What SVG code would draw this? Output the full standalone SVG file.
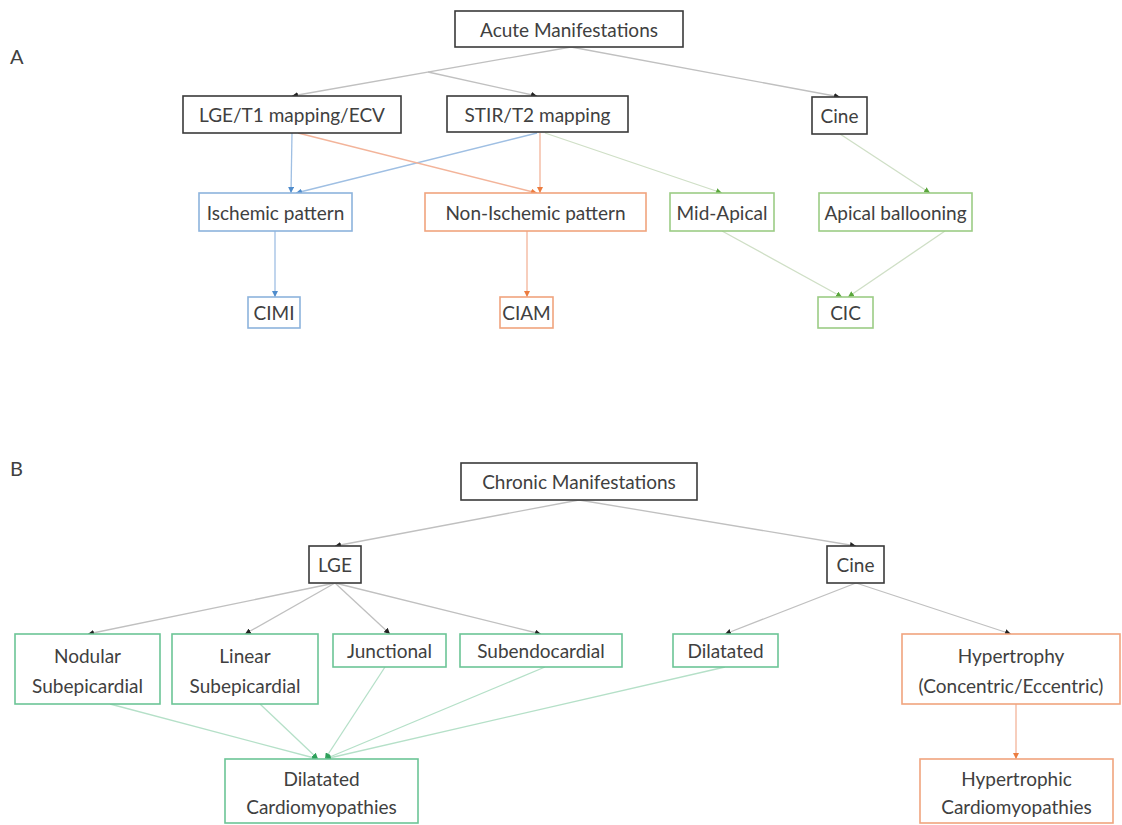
<svg xmlns="http://www.w3.org/2000/svg" width="1122" height="825" viewBox="0 0 1122 825">
<style>
text{font-family:Lato,"Open Sans","Liberation Sans",sans-serif;font-size:19px;fill:#404040;text-anchor:middle;dominant-baseline:central}
.lbl{font-size:20px;text-anchor:start}
rect{fill:#fff;stroke-width:1.6}
.k rect{stroke:#3a3a3a}
.b rect{stroke:#8db3dd}
.o rect{stroke:#f0a47e}
.g rect{stroke:#9ccc85}
.t rect{stroke:#6cc596}
line{stroke-width:1.3;fill:none}
.ck{stroke:#c0c0c0}
.cb{stroke:#9fbfe3}
.co{stroke:#f3b49a}
.cg{stroke:#cfdfc6}
.ct{stroke:#b5e0c8}
</style>
<defs>
<marker id="ak" viewBox="0 0 6 6" refX="6" refY="3" markerWidth="6" markerHeight="6" markerUnits="userSpaceOnUse" orient="auto"><path d="M0,0L6,3L0,6z" fill="#222"/></marker>
<marker id="ab" viewBox="0 0 6 6" refX="6" refY="3" markerWidth="6" markerHeight="6" markerUnits="userSpaceOnUse" orient="auto"><path d="M0,0L6,3L0,6z" fill="#4f8ccc"/></marker>
<marker id="ao" viewBox="0 0 6 6" refX="6" refY="3" markerWidth="6" markerHeight="6" markerUnits="userSpaceOnUse" orient="auto"><path d="M0,0L6,3L0,6z" fill="#ec7c3f"/></marker>
<marker id="ag" viewBox="0 0 6 6" refX="6" refY="3" markerWidth="6" markerHeight="6" markerUnits="userSpaceOnUse" orient="auto"><path d="M0,0L6,3L0,6z" fill="#5aa63c"/></marker>
<marker id="at" viewBox="0 0 6 6" refX="6" refY="3" markerWidth="6" markerHeight="6" markerUnits="userSpaceOnUse" orient="auto"><path d="M0,0L6,3L0,6z" fill="#2ea05a"/></marker>
</defs>

<text class="lbl" x="10" y="56">A</text>
<text class="lbl" x="10" y="468">B</text>

<g id="connectors">
<line class="ck" x1="571" y1="47" x2="292" y2="96" marker-end="url(#ak)"/>
<line class="ck" x1="428" y1="72" x2="537" y2="96" marker-end="url(#ak)"/>
<line class="ck" x1="571" y1="47" x2="840" y2="97" marker-end="url(#ak)"/>
<line class="cb" x1="292" y1="133" x2="291" y2="193" marker-end="url(#ab)"/>
<line class="cb" x1="537" y1="133" x2="296" y2="193" marker-end="url(#ab)"/>
<line class="co" x1="298" y1="133" x2="537" y2="193" marker-end="url(#ao)"/>
<line class="co" x1="540" y1="133" x2="540" y2="193" marker-end="url(#ao)"/>
<line class="cg" x1="545" y1="133" x2="722" y2="193" marker-end="url(#ag)"/>
<line class="cg" x1="840" y1="134" x2="930" y2="193" marker-end="url(#ag)"/>
<line class="cb" x1="275" y1="231" x2="275" y2="297" marker-end="url(#ab)"/>
<line class="co" x1="527" y1="231" x2="527" y2="297" marker-end="url(#ao)"/>
<line class="cg" x1="722" y1="231" x2="842" y2="297" marker-end="url(#ag)"/>
<line class="cg" x1="945" y1="231" x2="848" y2="297" marker-end="url(#ag)"/>

<line class="ck" x1="579" y1="500" x2="335" y2="546" marker-end="url(#ak)"/>
<line class="ck" x1="579" y1="500" x2="856" y2="546" marker-end="url(#ak)"/>
<line class="ck" x1="335" y1="583" x2="88" y2="634" marker-end="url(#ak)"/>
<line class="ck" x1="335" y1="583" x2="245" y2="634" marker-end="url(#ak)"/>
<line class="ck" x1="335" y1="583" x2="390" y2="634" marker-end="url(#ak)"/>
<line class="ck" x1="335" y1="583" x2="541" y2="634" marker-end="url(#ak)"/>
<line class="ck" x1="856" y1="583" x2="725" y2="634" marker-end="url(#ak)"/>
<line class="ck" x1="856" y1="583" x2="1011" y2="634" marker-end="url(#ak)"/>
<line class="ct" x1="110" y1="704" x2="318" y2="759" marker-end="url(#at)"/>
<line class="ct" x1="260" y1="704" x2="318" y2="759" marker-end="url(#at)"/>
<line class="ct" x1="385" y1="667" x2="325" y2="759" marker-end="url(#at)"/>
<line class="ct" x1="545" y1="667" x2="325" y2="759" marker-end="url(#at)"/>
<line class="ct" x1="725" y1="667" x2="325" y2="759" marker-end="url(#at)"/>
<line class="co" x1="1016" y1="704" x2="1016" y2="759" marker-end="url(#ao)"/>
</g>

<g id="acute" class="k"><rect x="455" y="11" width="228" height="36"/><text x="569" y="29">Acute Manifestations</text></g>
<g id="lge-t1" class="k"><rect x="183" y="96" width="218" height="37"/><text x="292" y="114.5">LGE/T1 mapping/ECV</text></g>
<g id="stir" class="k"><rect x="447" y="96" width="181" height="36"/><text x="537.5" y="114">STIR/T2 mapping</text></g>
<g id="cine-a" class="k"><rect x="812" y="97" width="55" height="37"/><text x="839.5" y="115.5">Cine</text></g>
<g id="ischemic" class="b"><rect x="199" y="193" width="153" height="38"/><text x="275.5" y="212">Ischemic pattern</text></g>
<g id="nonischemic" class="o"><rect x="425" y="193" width="221" height="38"/><text x="535.5" y="212">Non-Ischemic pattern</text></g>
<g id="midapical" class="g"><rect x="670" y="193" width="104" height="38"/><text x="722" y="212">Mid-Apical</text></g>
<g id="apical" class="g"><rect x="819" y="193" width="153" height="38"/><text x="895.5" y="212">Apical ballooning</text></g>
<g id="cimi" class="b"><rect x="248" y="297" width="52" height="31"/><text x="274" y="312.5">CIMI</text></g>
<g id="ciam" class="o"><rect x="500" y="297" width="53" height="31"/><text x="526.5" y="312.5">CIAM</text></g>
<g id="cic" class="g"><rect x="818" y="297" width="55" height="31"/><text x="845.5" y="312.5">CIC</text></g>

<g id="chronic" class="k"><rect x="461" y="463" width="236" height="37"/><text x="579" y="481.5">Chronic Manifestations</text></g>
<g id="lge" class="k"><rect x="309" y="546" width="52" height="37"/><text x="335" y="564.5">LGE</text></g>
<g id="cine-b" class="k"><rect x="827" y="546" width="57" height="37"/><text x="855.5" y="564.5">Cine</text></g>
<g id="nodular" class="t"><rect x="15" y="634" width="145" height="70"/><text x="87.5" y="655">Nodular</text><text x="87.5" y="685">Subepicardial</text></g>
<g id="linear" class="t"><rect x="172" y="634" width="146" height="70"/><text x="245" y="655">Linear</text><text x="245" y="685">Subepicardial</text></g>
<g id="junctional" class="t"><rect x="333" y="634" width="113" height="33"/><text x="389.5" y="650.5">Junctional</text></g>
<g id="subendo" class="t"><rect x="460" y="634" width="162" height="33"/><text x="541" y="650.5">Subendocardial</text></g>
<g id="dilatated" class="t"><rect x="673" y="634" width="105" height="33"/><text x="725.5" y="650.5">Dilatated</text></g>
<g id="hypertrophy" class="o"><rect x="902" y="634" width="218" height="70"/><text x="1011" y="655">Hypertrophy</text><text x="1011" y="685">(Concentric/Eccentric)</text></g>
<g id="dcm" class="t"><rect x="225" y="759" width="193" height="64"/><text x="321.5" y="778">Dilatated</text><text x="321.5" y="806">Cardiomyopathies</text></g>
<g id="hcm" class="o"><rect x="920" y="759" width="193" height="64"/><text x="1016.5" y="778">Hypertrophic</text><text x="1016.5" y="806">Cardiomyopathies</text></g>
</svg>
